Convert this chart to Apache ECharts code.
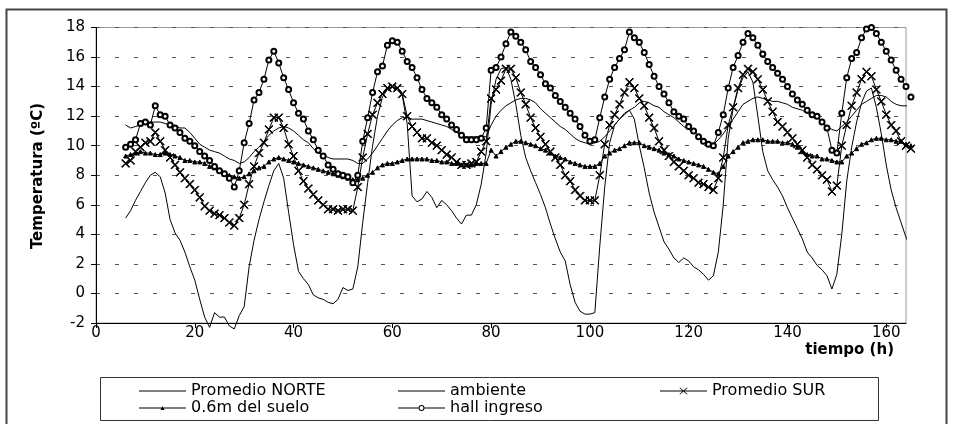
<!DOCTYPE html>
<html>
<head>
<meta charset="utf-8">
<script src="https://cdn.jsdelivr.net/npm/echarts@6/dist/echarts.min.js"></script>
<style>
  html, body { margin: 0; padding: 0; background: #fff; }
  #chart { width: 954px; height: 424px; }
</style>
</head>
<body>
<div id="chart"></div>
<script>
// hourly samples, first sample at hour 6
const startHour = 6;

const promedioNorte = [
  11.4, 11.2, 11.3, 11.4, 11.5, 11.6, 11.6, 11.6, 11.5, 11.4,
  11.3, 11.2, 11.2, 10.9, 10.5, 10.1, 9.9, 9.7, 9.6, 9.5,
  9.3, 9.1, 9.0, 8.8, 8.9, 9.2, 9.6, 9.9, 10.3, 10.7,
  11.0, 11.2, 11.3, 11.2, 11.0, 10.7, 10.4, 10.2, 9.8, 9.5,
  9.4, 9.2, 9.1, 9.1, 9.1, 9.1, 9.0, 8.8, 8.8, 9.1,
  9.5, 10.0, 10.5, 11.0, 11.4, 11.7, 11.9, 11.9, 11.8, 11.8,
  11.8, 11.7, 11.6, 11.5, 11.4, 11.3, 11.1, 10.9, 10.7, 10.6,
  10.6, 10.6, 10.6, 10.6, 11.4, 12.0, 12.4, 12.7, 12.9, 13.1,
  13.2, 13.2, 13.1, 12.9, 12.5, 12.2, 11.9, 11.6, 11.3, 11.1,
  10.8, 10.5, 10.3, 10.2, 10.1, 10.2, 10.3, 10.6, 11.0, 11.4,
  11.8, 12.1, 12.4, 12.6, 12.9, 13.0, 12.9, 12.7, 12.6, 12.3,
  12.1, 11.9, 11.6, 11.3, 11.1, 10.9, 10.7, 10.4, 10.1, 10.1,
  10.4, 10.8, 11.3, 11.8, 12.3, 12.8, 13.0, 13.2, 13.3, 13.2,
  13.1, 13.0, 13.0, 12.9, 12.8, 12.6, 12.5, 12.4, 12.2, 12.0,
  11.9, 11.6, 11.3, 11.1, 11.0, 11.3, 11.6, 12.0, 12.4, 12.8,
  13.0, 13.2, 13.4, 13.4, 13.3, 13.0, 12.8, 12.7, 12.7, 12.6
];

const ambiente = [
  5.1, 5.6, 6.3, 6.9, 7.5, 8.0, 8.2, 7.9, 6.8, 5.0,
  4.1, 3.6, 2.8, 1.8, 0.9, -0.4, -1.6, -2.3, -1.3, -1.6,
  -1.6, -2.2, -2.4, -1.5, -0.9, 1.8, 3.6, 5.0, 6.2, 7.3,
  8.3, 8.8, 7.8, 5.5, 3.3, 1.5, 1.0, 0.6, -0.1, -0.3,
  -0.4, -0.6, -0.7, -0.4, 0.4, 0.2, 0.3, 1.8, 4.8, 7.5,
  10.0, 12.0, 13.3, 13.8, 14.0, 13.8, 13.4, 11.5, 6.6, 6.2,
  6.4, 6.9, 6.5, 5.8, 6.3, 6.0, 5.6, 5.1, 4.7, 5.3,
  5.3, 6.0, 7.4, 9.5, 12.8, 14.5, 15.2, 15.3, 14.5, 12.8,
  10.7, 9.2, 8.3, 7.5, 6.7, 5.8, 4.7, 3.7, 2.8, 2.2,
  0.6, -0.6, -1.2, -1.4, -1.4, -1.3, 3.2, 7.2, 10.2, 11.4,
  11.8, 12.2, 12.4, 11.8, 10.0, 8.5, 6.8, 5.5, 4.5, 3.5,
  3.0, 2.4, 2.1, 2.4, 2.2, 1.8, 1.6, 1.3, 0.9, 1.2,
  2.8, 6.0, 10.5, 12.5, 13.8, 14.6, 15.0, 14.3, 12.0, 9.6,
  8.3, 7.7, 7.2, 6.6, 5.8, 5.1, 4.4, 3.7, 2.8, 2.4,
  1.9, 1.6, 1.2, 0.3, 1.3, 4.0, 7.6, 9.9, 11.6, 12.9,
  13.7, 13.9, 12.6, 10.8, 8.7, 7.0, 5.8, 4.8, 3.8, 3.1
];

const promedioSur = [
  8.8, 9.0, 9.6, 9.9, 10.2, 10.3, 10.9, 10.3, 9.7, 9.2,
  8.7, 8.2, 7.8, 7.4, 7.0, 6.5, 5.9, 5.6, 5.4, 5.3,
  5.1, 4.8, 4.6, 5.1, 6.0, 7.4, 8.6, 9.5, 10.2, 11.1,
  11.9, 11.9, 11.2, 10.1, 9.3, 8.3, 7.6, 7.1, 6.7, 6.3,
  6.0, 5.7, 5.7, 5.6, 5.7, 5.7, 5.6, 7.2, 9.2, 10.8,
  12.1, 12.9, 13.5, 13.9, 14.0, 13.9, 13.5, 12.0, 11.3, 10.9,
  10.5, 10.5, 10.2, 10.0, 9.7, 9.4, 9.2, 8.9, 8.7, 8.7,
  8.8, 8.9, 9.6, 10.3, 13.2, 13.8, 14.4, 15.2, 15.2, 14.6,
  13.6, 12.8, 11.9, 11.2, 10.6, 10.1, 9.6, 9.2, 8.7, 8.0,
  7.6, 7.0, 6.6, 6.3, 6.3, 6.3, 8.0, 10.1, 11.4, 12.1,
  12.8, 13.6, 14.3, 13.9, 13.2, 12.7, 11.9, 11.2, 10.3, 9.7,
  9.3, 8.9, 8.6, 8.3, 8.0, 7.8, 7.5, 7.4, 7.2, 7.0,
  7.8, 9.2, 11.4, 12.6, 13.9, 14.8, 15.2, 15.0, 14.5, 13.8,
  13.0, 12.3, 11.6, 11.3, 10.9, 10.5, 10.1, 9.7, 9.2, 8.7,
  8.4, 8.0, 7.7, 6.9, 7.3, 10.0, 11.4, 12.7, 13.6, 14.5,
  15.0, 14.7, 13.8, 13.0, 12.1, 11.4, 11.0, 10.3, 10.0, 9.8
];

const suelo06m = [
  9.3, 9.4, 9.5, 9.6, 9.5, 9.5, 9.4, 9.4, 9.5, 9.4,
  9.3, 9.2, 9.0, 9.0, 8.9, 8.9, 8.8, 8.6, 8.5, 8.3,
  8.1, 8.0, 7.9, 7.8, 7.9, 8.1, 8.3, 8.5, 8.6, 8.9,
  9.1, 9.2, 9.1, 9.0, 8.9, 8.8, 8.7, 8.6, 8.5, 8.4,
  8.3, 8.2, 8.1, 8.0, 7.9, 7.8, 7.7, 7.7, 7.8, 8.0,
  8.2, 8.5, 8.7, 8.8, 8.8, 8.9, 9.0, 9.1, 9.1, 9.1,
  9.1, 9.1, 9.0, 9.0, 8.9, 8.9, 8.8, 8.8, 8.7, 8.7,
  8.7, 8.8, 8.8, 8.8, 9.7, 9.3, 9.6, 9.9, 10.1, 10.3,
  10.3, 10.2, 10.1, 10.0, 9.8, 9.7, 9.5, 9.3, 9.2, 9.1,
  8.9, 8.8, 8.7, 8.6, 8.6, 8.6, 8.8, 9.3, 9.5, 9.7,
  9.8, 10.0, 10.2, 10.2, 10.2, 10.0, 9.9, 9.8, 9.7, 9.5,
  9.4, 9.3, 9.1, 9.0, 8.9, 8.8, 8.7, 8.6, 8.4, 8.2,
  8.1, 8.6, 9.3, 9.6, 9.9, 10.2, 10.3, 10.4, 10.4, 10.4,
  10.3, 10.3, 10.3, 10.2, 10.2, 10.1, 9.9, 9.6, 9.4, 9.3,
  9.3, 9.1, 9.1, 9.0, 8.9, 8.9, 9.3, 9.5, 9.8, 10.1,
  10.2, 10.4, 10.5, 10.5, 10.4, 10.4, 10.3, 10.3, 10.1, 10.0
];

const hallIngreso = [
  9.9, 10.1, 10.4, 11.5, 11.6, 11.4, 12.7, 12.1, 12.0, 11.4,
  11.2, 10.9, 10.5, 10.3, 10.0, 9.6, 9.3, 9.0, 8.6, 8.3,
  8.1, 7.8, 7.2, 8.3, 10.2, 11.5, 13.1, 13.6, 14.5, 15.8,
  16.4, 15.6, 14.6, 13.8, 12.9, 12.2, 11.8, 11.0, 10.4, 9.7,
  9.3, 8.7, 8.4, 8.1, 8.0, 7.9, 7.5, 8.0, 10.3, 11.9,
  13.6, 15.0, 15.4, 16.8, 17.1, 17.0, 16.4, 15.7, 15.3, 14.6,
  13.8, 13.2, 12.9, 12.6, 12.1, 11.8, 11.4, 11.1, 10.7, 10.4,
  10.4, 10.4, 10.5, 11.2, 15.1, 15.3, 16.0, 16.9, 17.7, 17.4,
  17.0, 16.5, 15.7, 15.3, 14.8, 14.2, 13.9, 13.4, 13.0, 12.6,
  12.2, 11.8, 11.3, 10.7, 10.3, 10.4, 11.9, 13.3, 14.5, 15.3,
  15.9, 16.5, 17.7, 17.3, 17.0, 16.3, 15.5, 14.7, 14.0, 13.5,
  12.9, 12.3, 12.0, 11.8, 11.3, 11.0, 10.6, 10.3, 10.1, 10.0,
  10.9, 12.1, 13.9, 15.3, 16.1, 17.0, 17.6, 17.3, 16.8, 16.2,
  15.7, 15.3, 14.9, 14.5, 14.0, 13.5, 13.1, 12.8, 12.4, 12.1,
  12.0, 11.6, 11.2, 9.7, 9.5, 12.2, 14.6, 15.9, 16.3, 17.3,
  17.9, 18.0, 17.6, 17.0, 16.4, 15.8, 15.1, 14.5, 14.0, 13.3
];

const seriesNames = ['Promedio NORTE', 'ambiente', 'Promedio SUR', '0.6m del suelo', 'hall ingreso'];
const yTicks = { min: -2, max: 18, step: 2 };
const xTicks = { min: 0, max: 164, step: 20 };

function pairs(vals) {
  return vals.map((v, i) => [startHour + i, v]);
}

const FONT = 'DejaVu Sans';
const xSymbol = 'path://M0,0.7L0.7,0L5,4.3L9.3,0L10,0.7L5.7,5L10,9.3L9.3,10L5,5.7L0.7,10L0,9.3L4.3,5Z';

// legend icons (line sample with marker), drawn in a 47 x 7 box
const BAR = 'M0,2.9L47,2.9L47,4.1L0,4.1Z';
const iconPlain = 'path://' + BAR;
const iconX = 'path://' + BAR +
  ' M19.5,0.5L20,0L23.5,3L27,0L27.5,0.5L24,3.5L27.5,6.5L27,7L23.5,4L20,7L19.5,6.5L23,3.5Z';
const iconTri = 'path://' + BAR + ' M21.5,5.5L23.5,1.5L25.5,5.5Z';
const iconCircle = 'path://M0,2.9L20.5,2.9L20.5,4.1L0,4.1Z M26.5,2.9L47,2.9L47,4.1L26.5,4.1Z' +
  ' M26.5,3.5A3,3 0 1 0 20.5,3.5A3,3 0 1 0 26.5,3.5Z M25.5,3.5A2,2 0 1 1 21.5,3.5A2,2 0 1 1 25.5,3.5Z';

function lineSeries(name, vals, symbol, size) {
  return {
    name: name,
    type: 'line',
    data: pairs(vals),
    clip: false,
    symbol: symbol,
    symbolSize: size,
    showSymbol: symbol !== 'none',
    lineStyle: { color: '#000', width: 1 },
    itemStyle: { color: '#000', borderColor: '#000', borderWidth: 1 },
    emphasis: { disabled: true },
    animation: false
  };
}

function legendAt(name, icon, left, top) {
  return {
    left: left, top: top, padding: 0,
    orient: 'horizontal',
    itemWidth: 47, itemHeight: 8,
    symbolKeepAspect: true,
    selectedMode: false,
    data: [{ name: name, icon: icon }],
    itemStyle: { color: '#000', borderWidth: 0 },
    textStyle: { color: '#000', fontFamily: FONT, fontSize: 16 }
  };
}

const chart = echarts.init(document.getElementById('chart'), null, { renderer: 'canvas' });

chart.setOption({
  backgroundColor: '#fff',
  animation: false,
  grid: {
    left: 96, top: 27.5, width: 810, height: 295.5,
    show: true, borderColor: '#999', borderWidth: 1, backgroundColor: '#fff'
  },
  xAxis: {
    type: 'value',
    min: xTicks.min, max: xTicks.max, interval: xTicks.step,
    axisLine: { show: true, onZero: false, lineStyle: { color: '#000', width: 1 } },
    axisTick: { show: true, length: 5, lineStyle: { color: '#000' } },
    axisLabel: { color: '#000', fontFamily: FONT, fontSize: 15, margin: 3, showMaxLabel: false },
    splitLine: { show: false }
  },
  yAxis: {
    type: 'value',
    min: yTicks.min, max: yTicks.max, interval: yTicks.step,
    axisLine: { show: true, lineStyle: { color: '#000', width: 1 } },
    axisTick: { show: true, length: 5, lineStyle: { color: '#000' } },
    axisLabel: { color: '#000', fontFamily: FONT, fontSize: 15, margin: 11 },
    splitLine: { show: true, lineStyle: { color: '#555', width: 1, type: [4, 15] } }
  },
  legend: [
    legendAt(seriesNames[0], iconPlain, 139, 383),
    legendAt(seriesNames[1], iconPlain, 398, 383),
    legendAt(seriesNames[2], iconX, 660, 383),
    legendAt(seriesNames[3], iconTri, 139, 400),
    legendAt(seriesNames[4], iconCircle, 398, 400)
  ],
  series: [
    lineSeries(seriesNames[0], promedioNorte, 'none', 0),
    lineSeries(seriesNames[1], ambiente, 'none', 0),
    lineSeries(seriesNames[2], promedioSur, xSymbol, 8),
    lineSeries(seriesNames[3], suelo06m, 'triangle', 4),
    lineSeries(seriesNames[4], hallIngreso, 'emptyCircle', 5)
  ],
  graphic: [
    {
      type: 'polyline', silent: true,
      shape: { points: [[6.5, 424], [6.5, 9.5], [946.5, 9.5], [946.5, 424]] },
      style: { stroke: '#444', lineWidth: 2, fill: null }
    },
    {
      type: 'rect', silent: true,
      shape: { x: 100.5, y: 377.5, width: 778, height: 43 },
      style: { stroke: '#333', lineWidth: 1, fill: null }
    },
    {
      type: 'text', silent: true,
      x: 38, y: 176, rotation: Math.PI / 2,
      style: {
        text: 'Temperatura (ºC)', font: 'bold 15px "DejaVu Sans"', fill: '#000',
        align: 'center', verticalAlign: 'middle', textAlign: 'center', textVerticalAlign: 'middle'
      }
    },
    {
      type: 'text', silent: true,
      x: 894, y: 350,
      style: {
        text: 'tiempo (h)', font: 'bold 15px "DejaVu Sans"', fill: '#000',
        align: 'right', verticalAlign: 'middle', textAlign: 'right', textVerticalAlign: 'middle'
      }
    }
  ]
});
</script>
</body>
</html>
